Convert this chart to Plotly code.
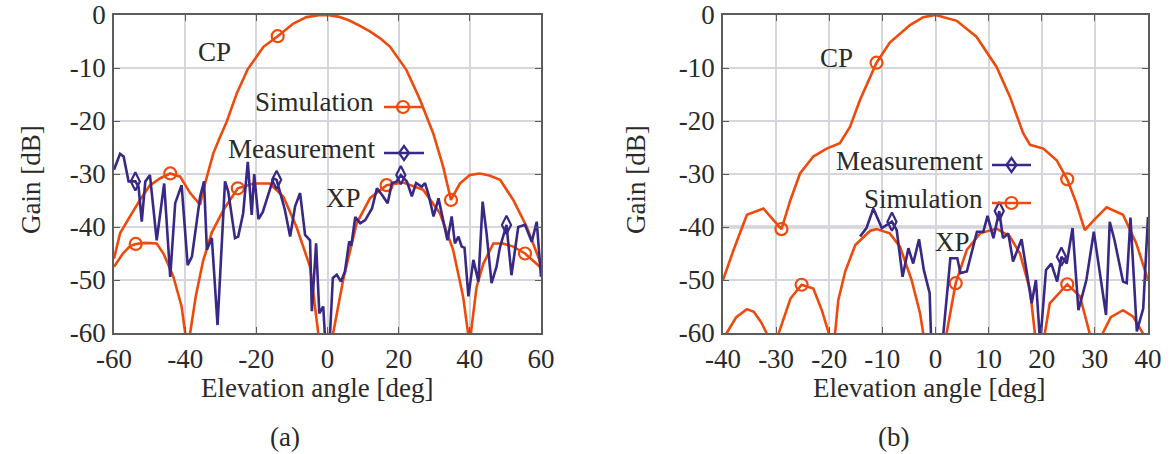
import plotly.graph_objects as go

# ---------------- data ----------------
# Panel (a)
CP_A_X = [-60, -58.3, -55.5, -52.7, -50, -47, -44.2, -41.4, -38.6, -35.8, -34.9, -33.9, -32.1, -30.2, -28.3,
          -25.5, -22.4, -18, -14, -9.6, -5.9, -2.5, 0, 3, 6, 9, 11.9, 14.8, 17.6, 22.2, 26, 29.7, 32.5, 34.7,
          37.2, 40, 42.8, 45.5, 48.5, 52.2, 56, 60]
CP_A_Y = [-46, -41.2, -38, -34.9, -32.2, -30.8, -29.9, -30.5, -33.6, -35.8, -33, -30.5, -26.1, -23, -20.1,
          -14.8, -10.2, -6, -4, -1.6, -0.4, -0.05, 0, -0.3, -1, -2, -3.1, -4.4, -6, -10.4, -16, -22.3, -28.6, -34.9,
          -31.8, -30.2, -29.9, -30.3, -31.1, -34.9, -40, -47]
CP_A_MARK = [6, 18, 33]

XP_A_X = [-60, -57.5, -55.5, -53.9, -51, -48, -46.1, -43.3, -41, -40, -39.5, -38.6, -37, -35, -32.5, -29,
          -25.2, -20.8, -16.2, -12.4, -8.7, -4.9, -2.6, -0.5, 1.6, 4.4, 8.2, 12, 16.6, 21.3, 26.9, 31.6, 35.3,
          38.1, 39.5, 39.9, 40.3, 41.9, 43.8, 46.6, 49.3, 52.2, 55.5, 60]
XP_A_Y = [-47.5, -45, -43.6, -43.2, -43, -43.1, -45, -49.4, -55, -60, -75, -60, -53, -46.5, -41, -36.5,
          -32.7, -31.8, -31.8, -34.3, -40, -47.5, -60, -75, -60, -50, -39.3, -34.5, -32.1, -31.6, -33, -37.4, -44.3,
          -53.1, -60, -75, -60, -51.3, -46.9, -43.1, -43.1, -43.7, -45, -47.7]
XP_A_MARK = [3, 16, 28, 42]

MEAS_A_X = [-60, -58.3, -57.3, -55.9, -54, -53.1, -52.2, -51.2, -49.9, -48, -45.9, -44.2, -42.8, -41, -39.3,
            -38.1, -35.8, -34.7, -33.9, -32.5, -30.9, -28.8, -27.9, -26, -25.1, -23.7, -22.4, -21.3, -20.6,
            -19.4, -18.2, -16.8, -15.2, -14.3, -12, -10.5, -9.1, -7.7, -6.3, -4.9, -4.4, -3.2, -2.3, -1.2, -0.5,
            0.5, 1.5, 2.6, 3.8, 4.9, 6.1, 6.7, 7.8, 9.2, 10.6, 12.5, 13.9, 15.3, 16.9, 18.1, 19.3, 20.6, 22.3,
            23.7, 24.9, 26.5, 27.4, 28.4, 29.8, 31.2, 32.6, 33.7, 34.9, 35.8, 36.8, 37.7, 38.5, 39.6, 41, 42.4,
            43.6, 44.7, 46.1, 47.5, 48.4, 50.3, 51.7, 53.6, 55.5, 57.4, 58.8, 60]
MEAS_A_Y = [-29.2, -26.2, -26.7, -31.4, -31.4, -32.4, -39, -31.4, -30.2, -42.5, -31.8, -49.4, -35.5, -32.1,
            -47.2, -45.6, -34.3, -31.4, -44.3, -42.1, -58.5, -31.4, -33.3, -42.1, -41.8, -37.4, -27.7, -37.7,
            -30, -38.5, -37.2, -34, -30.8, -31.1, -36.7, -41.8, -36.1, -33.6, -41.5, -42.5, -55.9, -43.1, -56.3,
            -55, -63, -63, -49.6, -49, -50.3, -48.4, -42.7, -43.5, -38.1, -39.3, -38.7, -36.5, -32.7, -33.9,
            -35.5, -31.7, -31.5, -30.2, -31.4, -34.2, -31.7, -32.4, -31.7, -33.9, -38, -34.6, -38.7, -42.5, -38,
            -43.1, -41.8, -43.7, -43.9, -53.1, -46.2, -50.3, -35.2, -41.2, -50.6, -47.5, -44, -39.6, -49.1, -40,
            -39.6, -42.8, -39, -49.4]
MEAS_A_MARK = [4, 33, 61, 85]

# Panel (b)
CP_B_X = [-40, -38, -35.5, -32.4, -30.5, -29, -27.3, -25.5, -23, -20.5, -18, -16.1, -14.2, -12.3, -11.1, -8.6,
          -4.8, -2.3, 0, 4, 7.7, 11.5, 14, 16.5, 17.8, 20.3, 22.8, 24.8, 26.5, 28.1, 30, 32.2, 35.3, 37.8, 40]
CP_B_Y = [-50, -44.3, -37.7, -36.5, -38.7, -40.4, -34.9, -29.9, -26.7, -25.2, -24.2, -21.1, -16, -11.6, -9,
          -5.2, -1.9, -0.4, 0, -1.1, -4.1, -9.8, -15.4, -22.3, -24.5, -25.2, -27.4, -31, -35.5, -40.6, -38.5,
          -36.3, -37.7, -43.1, -50]
CP_B_MARK = [5, 14, 27]

XP_B_X = [-40, -39.3, -37.5, -35.5, -34.2, -32.8, -31.8, -30.6, -29.5, -27.3, -25.2, -23, -21.4, -20.1, -19.5,
          -18.9, -18.3, -17, -15.1, -12.3, -11.1, -8.6, -6.7, -4.5, -2.9, -2.3, 0, 2.1, 3.8, 5.9, 8.4, 11.5, 14,
          15.9, 17.8, 18.7, 19.6, 20.6, 21.5, 24.8, 27.2, 29, 30.2, 31.5, 33, 35.3, 37.2, 39, 40]
XP_B_Y = [-75, -60, -57, -55.5, -56, -58, -60, -75, -60, -53.5, -50.9, -51.6, -55.7, -60, -75, -60, -53.8,
          -48.4, -43.4, -40.7, -40.4, -41.2, -43.7, -50, -56.3, -60, -75, -60, -50.6, -44.3, -41.2, -40.3, -41.8,
          -45, -51.9, -60, -75, -60, -54.4, -50.8, -53.1, -60, -75, -60, -57, -55.7, -56.9, -60, -75]
XP_B_MARK = [10, 28, 39]

MEAS_B_X = [-14.2, -13, -11.7, -10.1, -8.2, -7.3, -6.2, -5.1, -4.2, -3.1, -2.2, -1.1, -0.8, 0, 1.3, 2.8, 4.1,
            4.7, 5.9, 7.8, 9.0, 9.8, 10.9, 12, 12.7, 13.7, 14.6, 16.2, 18.1, 18.9, 19.7, 20.8, 21.8, 22.9, 23.7,
            24.7, 25.8, 26.9, 28.4, 29.8, 32.1, 32.8, 33.7, 35.3, 36, 36.7, 37.9, 39.1, 40]
MEAS_B_Y = [-41.8, -40.2, -36.5, -40.2, -39, -40.6, -49.4, -44, -46.9, -42.3, -48.1, -52.5, -62, -64, -62,
            -45.9, -45.9, -48.7, -48.4, -40.9, -40.9, -37.9, -42.1, -37, -42.1, -41.2, -46.5, -42.3, -54.4, -50,
            -62, -48.1, -46.9, -50.3, -45.6, -46.9, -40.2, -55.7, -50, -40.9, -56.6, -39, -42.5, -50.3, -50.6,
            -38.2, -59.7, -55.4, -38.1]
MEAS_B_MARK = [4, 23, 34]

X_TICKS_A = [-60, -40, -20, 0, 20, 40, 60]
X_TICKS_B = [-40, -30, -20, -10, 0, 10, 20, 30, 40]
Y_TICKS = [-60, -50, -40, -30, -20, -10, 0]

assert len(CP_A_X) == len(CP_A_Y) and len(XP_A_X) == len(XP_A_Y) and len(MEAS_A_X) == len(MEAS_A_Y)
assert len(CP_B_X) == len(CP_B_Y) and len(XP_B_X) == len(XP_B_Y) and len(MEAS_B_X) == len(MEAS_B_Y)

# ---------------- style ----------------
W, H = 1170, 454
ORANGE = "#ee4a0c"
INDIGO = "#392886"
TXT = "#2a2a2a"
GRID = "#d6d6de"
AXL = "#5c5c5c"
FONT = "Liberation Serif, Times New Roman, serif"
FS = 27


def fx(p):
    return p / W


def fy(p):
    return 1 - p / H


fig = go.Figure()


def add_curve(xs, ys, marks, color, symbol, xa, ya, msize):
    fig.add_trace(go.Scatter(x=xs, y=ys, mode="lines", line=dict(color=color, width=2.6),
                             xaxis=xa, yaxis=ya, hoverinfo="skip", showlegend=False))
    fig.add_trace(go.Scatter(x=[xs[i] for i in marks], y=[ys[i] for i in marks], mode="markers",
                             marker=dict(symbol=symbol, size=msize, color=color, line=dict(color=color, width=2.2)),
                             xaxis=xa, yaxis=ya, hoverinfo="skip", showlegend=False))


add_curve(CP_A_X, CP_A_Y, CP_A_MARK, ORANGE, "circle-open", "x", "y", 12)
add_curve(XP_A_X, XP_A_Y, XP_A_MARK, ORANGE, "circle-open", "x", "y", 12)
add_curve(MEAS_A_X, MEAS_A_Y, MEAS_A_MARK, INDIGO, "diamond-tall-open", "x", "y", 13)
add_curve(CP_B_X, CP_B_Y, CP_B_MARK, ORANGE, "circle-open", "x2", "y2", 12)
add_curve(XP_B_X, XP_B_Y, XP_B_MARK, ORANGE, "circle-open", "x2", "y2", 12)
add_curve(MEAS_B_X, MEAS_B_Y, MEAS_B_MARK, INDIGO, "diamond-tall-open", "x2", "y2", 13)

axis_common = dict(showgrid=True, gridcolor=GRID, gridwidth=1.5, zeroline=False, showline=True,
                   linecolor=AXL, linewidth=1.5, mirror="ticks", ticks="inside", ticklen=6,
                   tickcolor=AXL, tickwidth=1, tickfont=dict(family=FONT, size=FS, color=TXT),
                   tickmode="array", fixedrange=True, automargin=False)

ydom = [fy(333), fy(15)]
fig.update_layout(
    template="none",
    width=W, height=H, autosize=False,
    margin=dict(l=0, r=0, t=0, b=0, pad=0, autoexpand=False),
    paper_bgcolor="white", plot_bgcolor="white",
    font=dict(family=FONT, size=FS, color=TXT),
    showlegend=False,
    xaxis=dict(axis_common, domain=[fx(114), fx(541)], range=[-60, 60], anchor="y",
               tickvals=X_TICKS_A, ticktext=[str(v) for v in X_TICKS_A], ticklabelstandoff=1),
    yaxis=dict(axis_common, domain=ydom, range=[-60, 0], anchor="x",
               tickvals=Y_TICKS, ticktext=[str(v) for v in Y_TICKS], ticklabelstandoff=1),
    xaxis2=dict(axis_common, domain=[fx(723), fx(1148)], range=[-40, 40], anchor="y2",
                tickvals=X_TICKS_B, ticktext=[str(v) for v in X_TICKS_B], ticklabelstandoff=1),
    yaxis2=dict(axis_common, domain=ydom, range=[-60, 0], anchor="x2",
                tickvals=Y_TICKS, ticktext=[str(v) for v in Y_TICKS], ticklabelstandoff=1),
)

# emphasised -40 dB reference line in panel (b)
fig.add_shape(type="line", xref="x2", yref="y2", x0=-40, x1=40, y0=-40, y1=-40,
              line=dict(color="#bcbcc4", width=3), layer="below")


def legend_sample(x0, x1, y, color, kind):
    fig.add_shape(type="line", xref="paper", yref="paper", x0=fx(x0), x1=fx(x1), y0=fy(y), y1=fy(y),
                  line=dict(color=color, width=2.6))
    xc = (x0 + x1) / 2
    if kind == "circle":
        fig.add_shape(type="circle", xref="paper", yref="paper", xsizemode="pixel", ysizemode="pixel",
                      xanchor=fx(xc), yanchor=fy(y), x0=-6, x1=6, y0=-6, y1=6,
                      line=dict(color=color, width=2.2), fillcolor="rgba(0,0,0,0)")
    else:
        fig.add_shape(type="path", xref="paper", yref="paper", xsizemode="pixel", ysizemode="pixel",
                      xanchor=fx(xc), yanchor=fy(y), path="M 0,7 L 5,0 L 0,-7 L -5,0 Z",
                      line=dict(color=color, width=2.2), fillcolor="rgba(0,0,0,0)")


legend_sample(384, 422, 107, ORANGE, "circle")
legend_sample(384, 424, 153, INDIGO, "diamond")
legend_sample(992, 1031, 165, INDIGO, "diamond")
legend_sample(992, 1031, 203, ORANGE, "circle")


def text(t, x, y, anchor="center", angle=0):
    fig.add_annotation(text=t, x=fx(x), y=fy(y), xref="paper", yref="paper", showarrow=False,
                       xanchor=anchor, yanchor="middle", textangle=angle,
                       font=dict(family=FONT, size=FS, color=TXT))


text("CP", 214, 52)
text("Simulation", 376, 102, "right")
text("Measurement", 377, 149, "right")
text("XP", 343, 198)
text("CP", 836, 58)
text("Measurement", 985, 161, "right")
text("Simulation", 985, 199, "right")
text("XP", 952, 242)
text("Gain [dB]", 31, 180, angle=-90)
text("Gain [dB]", 636, 180, angle=-90)
text("Elevation angle [deg]", 317, 388)
text("Elevation angle [deg]", 929, 388)
text("(a)", 285, 437)
text("(b)", 893, 437)

fig.write_html("out.html")
